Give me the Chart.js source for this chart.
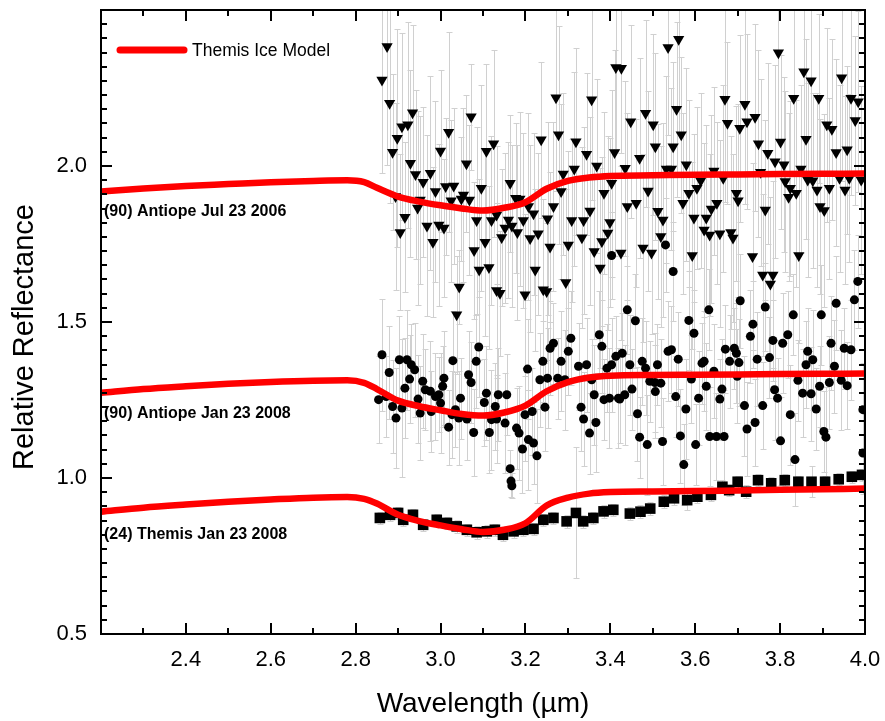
<!DOCTYPE html>
<html>
<head>
<meta charset="utf-8">
<script src="https://cdn.jsdelivr.net/npm/chart.js@4/dist/chart.umd.min.js"></script>
<style>
  body { margin: 0; background: #fff; }
  #wrap { width: 885px; height: 721px; }
</style>
</head>
<body>
<div id="wrap"><canvas id="chart" width="885" height="721"></canvas></div>
<script>
// model curve (Themis ice model), same wavelength grid for all three offsets
const modelX = [2.2, 2.3, 2.4, 2.5, 2.6, 2.7, 2.78, 2.82, 2.85, 2.9, 2.95, 3.0, 3.05, 3.1, 3.15, 3.2, 3.25, 3.3, 3.35, 3.4, 3.5, 3.6, 3.7, 3.8, 3.9, 4.0];
const modelJul2006 = [1.918, 1.928, 1.936, 1.942, 1.948, 1.952, 1.954, 1.948, 1.930, 1.902, 1.886, 1.874, 1.864, 1.857, 1.866, 1.884, 1.927, 1.952, 1.963, 1.968, 1.970, 1.972, 1.973, 1.974, 1.975, 1.976];
const modelJan2008 = [1.273, 1.285, 1.294, 1.302, 1.308, 1.312, 1.313, 1.305, 1.285, 1.248, 1.230, 1.217, 1.205, 1.200, 1.210, 1.232, 1.278, 1.307, 1.322, 1.328, 1.330, 1.331, 1.332, 1.333, 1.334, 1.335];
const modelThemis = [0.892, 0.905, 0.915, 0.924, 0.931, 0.937, 0.939, 0.933, 0.918, 0.882, 0.862, 0.848, 0.836, 0.827, 0.834, 0.855, 0.912, 0.937, 0.950, 0.955, 0.957, 0.958, 0.960, 0.962, 0.964, 0.966];

// [wavelength, reflectance, error]
const antiope2006 = [
  [2.874,2.383,0.38],[2.862,2.276,0.30],[2.880,2.201,0.32],[2.934,2.171,0.28],[2.909,2.126,0.30],[2.923,2.132,0.33],
  [2.898,2.089,0.35],[3.072,2.158,0.17],[3.019,2.108,0.32],[2.887,2.044,0.25],[3.000,2.048,0.26],[3.125,2.071,0.30],
  [3.108,2.047,0.28],[2.929,2.009,0.30],[3.061,2.007,0.22],[2.941,1.973,0.27],[2.976,1.977,0.31],[2.959,1.948,0.24],
  [2.988,1.918,0.29],[3.012,1.934,0.22],[3.031,1.936,0.25],[3.096,1.929,0.33],[2.894,1.902,0.30],[2.952,1.891,0.27],
  [2.946,1.865,0.31],[3.025,1.889,0.26],[3.054,1.907,0.28],[3.049,1.894,0.20],[3.068,1.891,0.24],[2.916,1.836,0.24],
  [2.968,1.808,0.29],[2.996,1.811,0.26],[3.008,1.801,0.22],[3.085,1.825,0.30],[3.120,1.825,0.27],[2.905,1.787,0.25],
  [2.982,1.756,0.24],[3.105,1.756,0.30],[3.079,1.729,0.22],[3.091,1.667,0.29],[3.114,1.675,0.26],[3.044,1.612,0.12],
  [3.132,1.601,0.28],[3.038,1.523,0.19],
  [3.413,2.316,0.26],[3.272,2.219,0.30],[3.356,2.212,0.32],[3.237,2.084,0.25],[3.278,2.100,0.35],[3.319,2.078,0.30],
  [3.344,2.038,0.26],[3.410,2.043,0.33],[3.368,2.000,0.28],[3.315,1.990,0.31],[3.289,1.974,0.26],[3.164,1.945,0.22],
  [3.403,1.945,0.30],[3.284,1.918,0.28],[3.385,1.913,0.26],[3.177,1.897,0.24],[3.187,1.894,0.28],[3.207,1.870,0.30],
  [3.266,1.870,0.27],[3.352,1.856,0.30],[3.219,1.847,0.26],[3.132,1.843,0.22],[3.160,1.827,0.25],[3.195,1.825,0.28],
  [3.252,1.831,0.31],[3.309,1.825,0.26],[3.337,1.825,0.30],[3.399,1.819,0.27],[3.152,1.801,0.24],[3.168,1.808,0.26],
  [3.181,1.787,0.28],[3.144,1.771,0.22],[3.211,1.768,0.30],[3.230,1.783,0.26],[3.333,1.770,0.29],[3.394,1.785,0.31],
  [3.380,1.758,0.27],[3.258,1.740,0.24],[3.301,1.747,0.30],[3.362,1.726,0.28],[3.223,1.667,0.26],[3.376,1.673,0.32],
  [3.140,1.592,0.20],[3.199,1.587,0.26],[3.242,1.603,0.29],[3.250,1.598,0.22],[3.295,1.627,0.30],
  [3.536,2.380,0.28],[3.561,2.406,0.30],[3.426,2.313,0.27],[3.670,2.214,0.33],[3.483,2.169,0.30],[3.556,2.182,0.28],
  [3.448,2.142,0.31],[3.501,2.132,0.29],[3.676,2.137,0.26],[3.705,2.121,0.30],[3.567,2.100,0.25],[3.506,2.062,0.30],
  [3.548,2.062,0.27],[3.469,2.025,0.32],[3.435,1.993,0.28],[3.532,1.990,0.30],[3.544,1.990,0.26],[3.579,2.004,0.31],
  [3.644,1.984,0.27],[3.666,1.961,0.30],[3.613,1.953,0.28],[3.489,1.920,0.32],[3.604,1.929,0.26],[3.585,1.913,0.30],
  [3.697,1.913,0.28],[3.701,1.889,0.31],[3.440,1.870,0.30],[3.461,1.881,0.27],[3.571,1.881,0.29],[3.651,1.881,0.26],
  [3.638,1.862,0.30],[3.512,1.855,0.28],[3.524,1.827,0.31],[3.597,1.833,0.27],[3.626,1.833,0.30],[3.621,1.795,0.28],
  [3.634,1.779,0.26],[3.658,1.783,0.30],[3.684,1.787,0.31],[3.689,1.769,0.27],[3.519,1.774,0.29],[3.425,1.721,0.28],
  [3.477,1.737,0.30],[3.497,1.721,0.26],[3.593,1.713,0.30],
  [3.796,2.363,0.28],[3.856,2.302,0.32],[3.873,2.273,0.30],[3.945,2.283,0.33],[3.832,2.217,0.30],[3.891,2.217,0.27],
  [3.967,2.217,0.31],[3.984,2.206,0.29],[3.717,2.198,0.32],[3.741,2.156,0.30],[3.722,2.142,0.28],[3.910,2.132,0.31],
  [3.922,2.118,0.29],[3.977,2.146,0.27],[3.749,2.071,0.30],[3.801,2.077,0.28],[3.861,2.086,0.32],[3.771,2.041,0.29],
  [3.932,2.043,0.30],[3.958,2.052,0.27],[3.788,2.014,0.31],[3.809,2.004,0.28],[3.754,1.980,0.30],[3.849,1.990,0.27],
  [3.812,1.950,0.29],[3.865,1.955,0.31],[3.877,1.953,0.28],[3.940,1.961,0.30],[3.963,1.961,0.27],[3.991,1.955,0.30],
  [3.824,1.929,0.28],[3.887,1.923,0.31],[3.916,1.929,0.29],[3.953,1.923,0.30],[3.820,1.900,0.27],[3.838,1.913,0.30],
  [3.894,1.870,0.28],[3.904,1.857,0.31],[3.765,1.859,0.29],[3.735,1.710,0.30],[3.844,1.713,0.28],[3.759,1.651,0.26],
  [3.783,1.651,0.30],[3.777,1.622,0.28]
];

const antiope2008 = [
  [2.862,1.395,0.18],[2.879,1.338,0.15],[2.903,1.379,0.14],[2.921,1.379,0.16],[2.931,1.363,0.13],[2.939,1.347,0.15],
  [2.927,1.317,0.14],[2.916,1.288,0.16],[2.854,1.251,0.14],[2.872,1.261,0.13],[2.887,1.229,0.15],[2.895,1.192,0.16],
  [2.909,1.224,0.22],[2.958,1.310,0.15],[2.964,1.283,0.13],[2.976,1.278,0.16],[2.988,1.261,0.14],[2.996,1.267,0.12],
  [3.008,1.320,0.15],[3.005,1.294,0.13],[3.000,1.240,0.16],[2.947,1.253,0.14],[2.952,1.208,0.15],[2.978,1.213,0.13],
  [3.029,1.376,0.16],[3.066,1.331,0.14],[3.072,1.306,0.13],[3.090,1.420,0.16],[3.084,1.374,0.15],[3.047,1.256,0.13],
  [3.035,1.219,0.12],[3.027,1.203,0.14],[3.043,1.192,0.15],[3.062,1.189,0.13],[3.019,1.163,0.12],[3.078,1.146,0.14],
  [3.108,1.272,0.15],[3.103,1.242,0.14],[3.115,1.146,0.13],[3.120,1.187,0.16],[3.129,1.229,0.14],
  [3.136,1.267,0.15],[3.156,1.267,0.13],[3.132,1.189,0.14],[3.152,1.176,0.16],[3.179,1.160,0.13],[3.185,1.144,0.15],
  [3.193,1.093,0.14],[3.207,1.123,0.16],[3.219,1.112,0.13],[3.227,1.071,0.15],[3.164,1.030,0.06],[3.166,0.990,0.05],
  [3.168,0.975,0.04],[3.199,1.203,0.15],[3.216,1.213,0.14],[3.205,1.349,0.16],[3.234,1.315,0.15],[3.241,1.374,0.13],
  [3.252,1.320,0.16],[3.246,1.227,0.14],[3.258,1.416,0.15],[3.266,1.432,0.13],[3.284,1.374,0.16],[3.301,1.406,0.14],
  [3.307,1.448,0.15],[3.276,1.320,0.13],[3.293,1.315,0.16],[3.325,1.358,0.14],[3.344,1.363,0.15],[3.356,1.315,0.13],
  [3.362,1.267,0.16],[3.331,1.227,0.14],[3.337,1.189,0.15],[3.351,1.144,0.13],[3.366,1.178,0.16],[3.374,1.459,0.14],
  [3.380,1.422,0.15],[3.385,1.251,0.13],[3.398,1.256,0.16],[3.392,1.352,0.14],[3.403,1.363,0.15],[3.413,1.390,0.13],
  [3.419,1.256,0.16],[3.403,1.713,0.14],
  [3.530,1.747,0.15],[3.548,1.662,0.16],[3.440,1.539,0.14],[3.459,1.504,0.15],[3.632,1.539,0.13],[3.585,1.505,0.16],
  [3.597,1.464,0.14],[3.706,1.568,0.15],[3.428,1.400,0.13],[3.446,1.363,0.16],[3.475,1.374,0.14],[3.483,1.352,0.15],
  [3.511,1.363,0.13],[3.536,1.406,0.16],[3.544,1.411,0.14],[3.560,1.381,0.15],[3.493,1.310,0.13],[3.505,1.306,0.16],
  [3.519,1.304,0.14],[3.506,1.277,0.15],[3.451,1.285,0.13],[3.434,1.267,0.16],[3.422,1.253,0.14],[3.464,1.206,0.15],
  [3.554,1.261,0.13],[3.578,1.221,0.16],[3.591,1.317,0.14],[3.608,1.256,0.15],[3.616,1.368,0.13],[3.621,1.374,0.16],
  [3.626,1.294,0.14],[3.644,1.342,0.15],[3.658,1.253,0.13],[3.663,1.285,0.16],[3.671,1.413,0.14],[3.681,1.374,0.15],
  [3.692,1.416,0.13],[3.697,1.400,0.16],[3.703,1.370,0.14],[3.699,1.326,0.15],[3.469,1.131,0.13],[3.487,1.107,0.16],
  [3.523,1.117,0.14],[3.565,1.135,0.15],[3.601,1.107,0.13],[3.634,1.133,0.16],[3.650,1.133,0.14],[3.668,1.133,0.15],
  [3.573,1.043,0.13],
  [3.983,1.630,0.15],[3.975,1.571,0.16],[3.765,1.548,0.14],[3.932,1.560,0.15],[3.831,1.523,0.13],[3.897,1.523,0.16],
  [3.736,1.493,0.14],[3.730,1.454,0.15],[3.783,1.441,0.13],[3.806,1.432,0.16],[3.818,1.459,0.14],[3.920,1.432,0.15],
  [3.951,1.416,0.13],[3.967,1.411,0.16],[3.865,1.406,0.14],[3.746,1.381,0.15],[3.775,1.386,0.13],[3.877,1.379,0.16],
  [3.861,1.363,0.14],[3.928,1.358,0.15],[3.842,1.313,0.13],[3.944,1.313,0.16],[3.958,1.296,0.14],[3.916,1.306,0.15],
  [3.893,1.294,0.13],[3.787,1.283,0.16],[3.853,1.272,0.14],[3.873,1.270,0.15],[3.794,1.256,0.13],[3.716,1.232,0.16],
  [3.759,1.232,0.14],[3.995,1.219,0.15],[3.885,1.221,0.13],[3.824,1.203,0.16],[3.741,1.178,0.14],[3.722,1.157,0.15],
  [3.903,1.149,0.13],[3.908,1.131,0.16],[3.801,1.119,0.14],[3.835,1.059,0.15],[3.995,1.080,0.13]
];

const themis2008 = [
  [2.857,0.872,0.02],[2.881,0.882,0.02],[2.900,0.888,0.02],[2.912,0.866,0.02],[2.935,0.882,0.02],[2.959,0.850,0.02],
  [2.991,0.866,0.02],[3.015,0.856,0.02],[3.038,0.845,0.02],[3.062,0.834,0.02],[3.085,0.826,0.02],[3.109,0.829,0.02],
  [3.128,0.834,0.02],[3.147,0.818,0.02],[3.172,0.829,0.02],[3.195,0.834,0.02],[3.219,0.837,0.02],[3.242,0.866,0.02],
  [3.266,0.872,0.02],[3.297,0.861,0.02],[3.319,0.888,0.21],[3.336,0.861,0.02],[3.360,0.872,0.02],[3.384,0.893,0.02],
  [3.407,0.898,0.02],[3.446,0.886,0.02],[3.471,0.892,0.02],[3.494,0.902,0.02],[3.526,0.924,0.02],[3.550,0.935,0.02],
  [3.581,0.929,0.03],[3.605,0.940,0.02],[3.637,0.946,0.02],[3.664,0.972,0.02],[3.680,0.961,0.02],[3.700,0.988,0.02],
  [3.720,0.956,0.02],[3.748,0.993,0.02],[3.779,0.983,0.02],[3.811,0.993,0.02],[3.843,0.988,0.02],[3.874,0.988,0.05],
  [3.906,0.988,0.02],[3.938,0.996,0.02],[3.969,1.004,0.02],[3.993,1.010,0.02]
];

const labelText = ['(90) Antiope Jul 23 2006', '(90) Antiope Jan 23 2008', '(24) Themis Jan 23 2008'];
const labelY = [1.853, 1.206, 0.818];
const legendText = 'Themis Ice Model';
const yTitle = 'Relative Reflectance';

const FONT = "'Liberation Sans', Arial, sans-serif";
const RED = '#ff0000';

function toPoints(xs, ys) { return xs.map((v, i) => ({ x: v, y: ys[i] })); }
function pts(series) { return series.map(p => ({ x: p[0], y: p[1] })); }

function modelDs(ys) {
  return {
    data: toPoints(modelX, ys), showLine: true, borderColor: RED, borderWidth: 6.5,
    pointRadius: 0, cubicInterpolationMode: 'monotone', borderCapStyle: 'round', fill: false
  };
}

const overlay = {
  id: 'overlay',
  beforeDatasetsDraw(chart) {
    const { ctx, chartArea: a, scales: { x, y } } = chart;
    ctx.save();
    ctx.beginPath();
    ctx.rect(a.left, a.top, a.right - a.left, a.bottom - a.top);
    ctx.clip();
    ctx.strokeStyle = '#d0d0d0';
    ctx.lineWidth = 1;
    [antiope2006, antiope2008, themis2008].forEach(series => {
      series.forEach(([vx, vy, e]) => {
        const cx = Math.round(x.getPixelForValue(vx)) + 0.5;
        const y1 = Math.round(y.getPixelForValue(vy - e)) + 0.5;
        const y2 = Math.round(y.getPixelForValue(vy + e)) + 0.5;
        ctx.beginPath();
        ctx.moveTo(cx, y1); ctx.lineTo(cx, y2);
        ctx.moveTo(cx - 3, y1); ctx.lineTo(cx + 3, y1);
        ctx.moveTo(cx - 3, y2); ctx.lineTo(cx + 3, y2);
        ctx.stroke();
      });
    });
    ctx.restore();
  },
  afterDraw(chart) {
    const { ctx, chartArea: a, scales: { x, y } } = chart;
    ctx.save();
    // frame
    ctx.strokeStyle = '#000';
    ctx.lineWidth = 2;
    ctx.strokeRect(a.left, a.top, a.right - a.left, a.bottom - a.top);
    // inward ticks, all four sides
    ctx.beginPath();
    for (let i = 0; i <= 18; i++) {
      const px = Math.round(x.getPixelForValue(2.2 + i * 0.1));
      const len = i % 2 === 0 ? 11 : 6;
      ctx.moveTo(px, a.bottom); ctx.lineTo(px, a.bottom - len);
      ctx.moveTo(px, a.top); ctx.lineTo(px, a.top + len);
    }
    for (let k = 0; k <= 44; k++) {
      const py = Math.round(y.getPixelForValue(0.5 + k * 0.5 / 11));
      const len = k % 11 === 0 ? 11 : 6;
      ctx.moveTo(a.left, py); ctx.lineTo(a.left + len, py);
      ctx.moveTo(a.right, py); ctx.lineTo(a.right - len, py);
    }
    ctx.stroke();

    // y axis title (drawn here to match the original offset)
    ctx.fillStyle = '#000';
    ctx.save();
    ctx.translate(25, 337);
    ctx.rotate(-Math.PI / 2);
    ctx.font = '29px ' + FONT;
    ctx.textAlign = 'center';
    ctx.textBaseline = 'middle';
    ctx.fillText(yTitle, 0, 0);
    ctx.restore();

    // series labels
    ctx.font = 'bold 16px ' + FONT;
    ctx.textBaseline = 'middle';
    ctx.textAlign = 'left';
    labelText.forEach((t, i) => ctx.fillText(t, a.left + 3, y.getPixelForValue(labelY[i])));

    // legend
    ctx.strokeStyle = RED;
    ctx.lineWidth = 7;
    ctx.lineCap = 'round';
    ctx.beginPath();
    ctx.moveTo(a.left + 19, a.top + 40);
    ctx.lineTo(a.left + 83, a.top + 40);
    ctx.stroke();
    ctx.font = '17.5px ' + FONT;
    ctx.fillText(legendText, a.left + 91, a.top + 41);
    ctx.restore();
  }
};

new Chart(document.getElementById('chart'), {
  type: 'scatter',
  data: {
    datasets: [
      modelDs(modelJul2006),
      modelDs(modelJan2008),
      modelDs(modelThemis),
      { data: pts(themis2008), pointStyle: 'rect', pointRadius: 7.5, backgroundColor: '#000', borderColor: '#000', borderWidth: 0 },
      { data: pts(antiope2008), pointStyle: 'circle', pointRadius: 4.5, backgroundColor: '#000', borderColor: '#000', borderWidth: 0 },
      { data: pts(antiope2006), pointStyle: 'triangle', rotation: 180, pointRadius: 6.5, backgroundColor: '#000', borderColor: '#000', borderWidth: 0 }
    ]
  },
  options: {
    responsive: false,
    animation: false,
    devicePixelRatio: 1,
    layout: { padding: { top: 10, right: 20, left: 0, bottom: 0 } },
    plugins: { legend: { display: false }, tooltip: { enabled: false } },
    scales: {
      x: {
        type: 'linear', min: 2.2, max: 4.0,
        afterFit: s => { s.height = 87; s.paddingLeft = 0; s.paddingRight = 0; },
        grid: { drawOnChartArea: false, drawTicks: false },
        border: { display: false },
        ticks: {
          stepSize: 0.2, padding: 13, color: '#000', font: { family: FONT, size: 22 },
          maxRotation: 0, autoSkip: false,
          callback: v => Math.abs(v - 2.2) < 1e-6 ? '' : v.toFixed(1)
        },
        title: { display: true, text: 'Wavelength (\u00b5m)', color: '#000', font: { family: FONT, size: 28 }, padding: { top: 0, bottom: 0 } }
      },
      y: {
        type: 'linear', min: 0.5, max: 2.5,
        afterFit: s => { s.width = 101; s.paddingTop = 0; s.paddingBottom = 0; },
        grid: { drawOnChartArea: false, drawTicks: false },
        border: { display: false },
        ticks: {
          stepSize: 0.5, padding: 14, color: '#000', font: { family: FONT, size: 22 },
          callback: v => Math.abs(v - 2.5) < 1e-6 ? '' : v.toFixed(1)
        },
        title: { display: false }
      }
    }
  },
  plugins: [overlay]
});
</script>
</body>
</html>
